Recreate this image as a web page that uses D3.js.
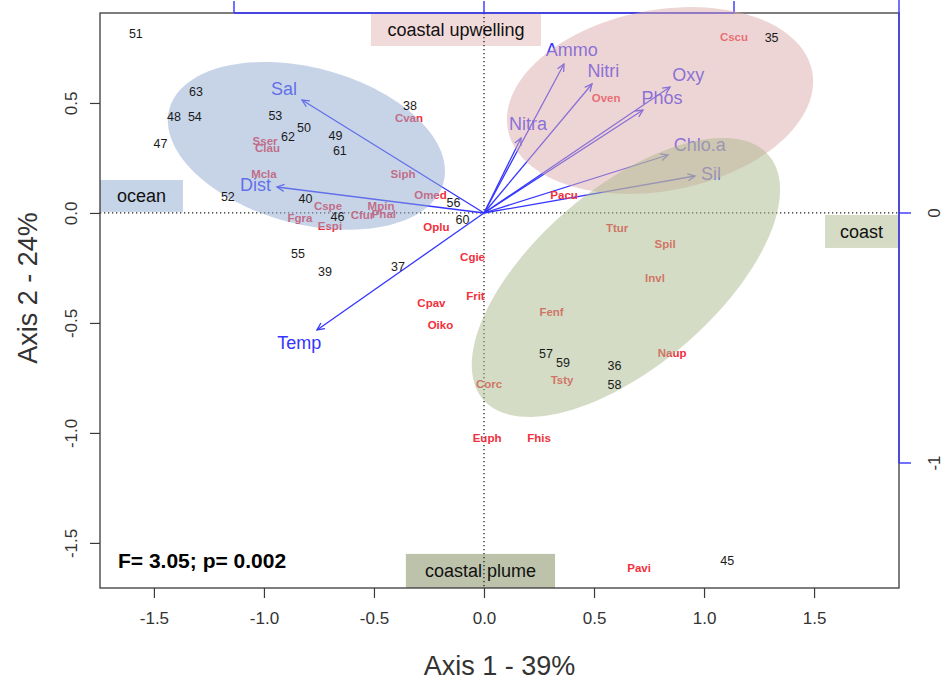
<!DOCTYPE html>
<html>
<head>
<meta charset="utf-8">
<script src="https://cdn.jsdelivr.net/npm/d3@7"></script>
<style>
  body { margin: 0; background: #fff; }
  svg { display: block; }
  text { font-family: "Liberation Sans", Arial, sans-serif; }
</style>
</head>
<body>
<svg id="chart" width="943" height="680"></svg>
<script>
// ---- Site scores (axis 1, axis 2) ----
const siteIds = ["51","63","48","54","47","53","50","62","49","61","38","52","40","46","56","60","55","39","37","35","57","59","36","58","45"];
const siteAx1 = [-1.582,-1.309,-1.409,-1.314,-1.470,-0.948,-0.818,-0.891,-0.675,-0.655,-0.336,-1.164,-0.811,-0.666,-0.139,-0.098,-0.845,-0.723,-0.391,1.307,0.282,0.359,0.593,0.593,1.105];
const siteAx2 = [0.814,0.552,0.436,0.436,0.316,0.441,0.386,0.348,0.350,0.284,0.486,0.073,0.064,-0.016,0.048,-0.032,-0.186,-0.268,-0.243,0.798,-0.639,-0.680,-0.695,-0.782,-1.580];

// ---- Species scores ----
const speciesIds = ["Cscu","Oven","Cvan","Sser","Clau","Mcla","Siph","Omed","Pacu","Cspe","Mpin","Fgra","Cfur","Phal","Espi","Oplu","Cgie","Frit","Cpav","Oiko","Ttur","Spil","Invl","Fenf","Naup","Tsty","Corc","Euph","Fhis","Pavi"];
const speciesAx1 = [1.136,0.555,-0.341,-0.995,-0.984,-1.000,-0.368,-0.243,0.364,-0.709,-0.468,-0.836,-0.552,-0.455,-0.700,-0.216,-0.052,-0.039,-0.239,-0.198,0.605,0.823,0.777,0.307,0.855,0.355,0.023,0.014,0.250,0.705];
const speciesAx2 = [0.802,0.523,0.432,0.327,0.295,0.177,0.175,0.082,0.082,0.030,0.030,-0.023,-0.011,-0.005,-0.061,-0.066,-0.200,-0.377,-0.409,-0.509,-0.068,-0.139,-0.295,-0.450,-0.636,-0.759,-0.777,-1.025,-1.025,-1.616];

// ---- Environmental vectors (arrow axis units) ----
const envIds = ["Sal","Dist","Temp","Nitra","Ammo","Nitri","Oxy","Phos","Chlo.a","Sil"];
const envAx1 = [-0.728,-0.828,-0.668,0.148,0.320,0.432,0.744,0.636,0.736,0.844];
const envAx2 = [0.452,0.104,-0.468,0.300,0.596,0.516,0.504,0.412,0.232,0.148];

// ---- Group ellipses: centre, semi-axes, rotation (degrees) ----
const groupNames = ["ocean","coastal upwelling","coast"];
const ellCx = [-0.807, 0.800, 0.645];
const ellCy = [0.305, 0.511, -0.293];
const ellRx = [0.645, 0.704, 0.854];
const ellRy = [0.355, 0.411, 0.405];
const ellAngle = [-15, 10.8, 40.5];
const ellColor = ["#8faad2", "#ddacac", "#abb98d"];

// ---- Region labels: text and box extents in axis units ----
const regionText = ["ocean","coastal upwelling","coast","coastal plume"];
const regionX0 = [-1.745, -0.514, 1.550, -0.355];
const regionX1 = [-1.368, 0.259, 1.882, 0.323];
const regionY0 = [0.150, 0.905, -0.009, -1.550];
const regionY1 = [0.005, 0.759, -0.159, -1.705];
const regionFill = ["#c6d4e7", "#f1dada", "#d5dbc5", "#bcc3aa"];

// ---- Axes ----
const xTicks = [-1.5,-1.0,-0.5,0.0,0.5,1.0,1.5];
const yTicks = [-1.5,-1.0,-0.5,0.0,0.5];
const vTicks = [-1, 0, 1];
const xTitle = "Axis 1 - 39%";
const yTitle = "Axis 2 - 24%";
const statText = "F= 3.05; p= 0.002";

const svg = d3.select("#chart");
const L = 100, R = 899, T = 13, B = 588;

const x = d3.scaleLinear().domain([-1.745, 1.886]).range([L, R]);
const y = d3.scaleLinear().domain([0.909, -1.705]).range([T, B]);
const vx = d3.scaleLinear().domain([-1.536, 1.660]).range([L, R]);
const vy = d3.scaleLinear().domain([0.800, -1.500]).range([T, B]);

const BLUE = "#3535ff";
const RED = "#f2303c";

// region boxes sit under everything else
regionText.forEach((t, i) => {
  svg.append("rect")
    .attr("x", x(regionX0[i])).attr("y", y(regionY0[i]))
    .attr("width", x(regionX1[i]) - x(regionX0[i]))
    .attr("height", y(regionY1[i]) - y(regionY0[i]))
    .attr("fill", regionFill[i]);
});

// zero lines
svg.append("line").attr("x1", L).attr("x2", R).attr("y1", y(0)).attr("y2", y(0))
  .attr("stroke", "#222").attr("stroke-width", 1.3).attr("stroke-dasharray", "1.3,2.7");
svg.append("line").attr("x1", x(0)).attr("x2", x(0)).attr("y1", T).attr("y2", B)
  .attr("stroke", "#222").attr("stroke-width", 1.3).attr("stroke-dasharray", "1.3,2.7");

// plot frame
svg.append("rect").attr("x", L).attr("y", T).attr("width", R - L).attr("height", B - T)
  .attr("fill", "none").attr("stroke", "#3a3a3a").attr("stroke-width", 1.3);

// bottom axis
const gx = svg.append("g").attr("transform", `translate(0,${B})`)
  .call(d3.axisBottom(x).tickValues(xTicks).tickFormat(d => d.toFixed(1)).tickSize(10).tickPadding(14));
gx.select(".domain").remove();
gx.selectAll(".tick line").attr("stroke", "#3a3a3a").attr("stroke-width", 1.2);
gx.selectAll(".tick text").attr("font-size", 17).attr("fill", "#333")
  .attr("font-family", "Liberation Sans, Arial, sans-serif");

// left axis, labels parallel to the axis
const gy = svg.append("g").attr("transform", `translate(${L},0)`)
  .call(d3.axisLeft(y).tickValues(yTicks).tickFormat(d => d.toFixed(1)).tickSize(10));
gy.select(".domain").remove();
gy.selectAll(".tick line").attr("stroke", "#3a3a3a").attr("stroke-width", 1.2);
gy.selectAll(".tick text").attr("font-size", 17).attr("fill", "#333")
  .attr("font-family", "Liberation Sans, Arial, sans-serif")
  .attr("transform", "rotate(-90)").attr("x", 0).attr("y", -23).attr("dy", 0)
  .attr("text-anchor", "middle");

// secondary (arrow) axes, top and right
svg.append("line").attr("x1", vx(-1)).attr("x2", vx(1)).attr("y1", T).attr("y2", T)
  .attr("stroke", BLUE).attr("stroke-width", 1.4);
vTicks.forEach(v => {
  svg.append("line").attr("x1", vx(v)).attr("x2", vx(v)).attr("y1", T).attr("y2", T - 12)
    .attr("stroke", BLUE).attr("stroke-width", 1.4);
});
svg.append("line").attr("x1", R).attr("x2", R).attr("y1", vy(-1)).attr("y2", Math.max(0, vy(1)))
  .attr("stroke", BLUE).attr("stroke-width", 1.4);
vTicks.filter(v => vy(v) >= T).forEach(v => {
  svg.append("line").attr("x1", R).attr("x2", R + 12).attr("y1", vy(v)).attr("y2", vy(v))
    .attr("stroke", BLUE).attr("stroke-width", 1.4);
  svg.append("text").attr("transform", `translate(${R + 41},${vy(v)}) rotate(-90)`)
    .attr("text-anchor", "middle").attr("font-size", 17).attr("fill", "#333")
    .text(String(v));
});

// axis titles
svg.append("text").attr("x", (L + R) / 2).attr("y", 675).attr("text-anchor", "middle")
  .attr("font-size", 27).attr("fill", "#333").text(xTitle);
svg.append("text").attr("transform", `translate(37,288) rotate(-90)`).attr("text-anchor", "middle")
  .attr("font-size", 27).attr("fill", "#333").text(yTitle);

// environmental arrows
const env = envIds.map((id, i) => ({ id, a1: envAx1[i], a2: envAx2[i] }));
const ox = vx(0), oy = vy(0);
const gArr = svg.append("g").attr("stroke", BLUE).attr("stroke-width", 1.3).attr("fill", "none");
env.forEach(d => {
  const ex = vx(d.a1), ey = vy(d.a2);
  const ang = Math.atan2(ey - oy, ex - ox);
  const hl = 8, ha = Math.PI / 7;
  gArr.append("line").attr("x1", ox).attr("y1", oy).attr("x2", ex).attr("y2", ey);
  gArr.append("path").attr("d",
    `M${ex - hl * Math.cos(ang - ha)},${ey - hl * Math.sin(ang - ha)}L${ex},${ey}L${ex - hl * Math.cos(ang + ha)},${ey - hl * Math.sin(ang + ha)}`);
});

// species labels
speciesIds.forEach((id, i) => {
  svg.append("text").attr("x", x(speciesAx1[i])).attr("y", y(speciesAx2[i])).attr("dy", "0.35em")
    .attr("text-anchor", "middle").attr("font-size", 11.5).attr("font-weight", "bold")
    .attr("fill", RED).text(id);
});

// arrow labels, pushed just beyond the arrow head
svg.selectAll("text.env").data(env).join("text").attr("class", "env")
  .attr("text-anchor", "middle").attr("dy", "0.35em").attr("font-size", 18).attr("fill", BLUE)
  .text(d => d.id)
  .each(function (d) {
    const hw = this.getComputedTextLength() / 2, hh = 9;
    const px = vx(d.a1) - ox, py = vy(d.a2) - oy;
    const len = Math.hypot(px, py), ux = px / len, uy = py / len;
    const t = Math.min(hw / Math.max(Math.abs(ux), 1e-6), hh / Math.max(Math.abs(uy), 1e-6)) + 6;
    d3.select(this).attr("x", vx(d.a1) + ux * t).attr("y", vy(d.a2) + uy * t);
  });

// group ellipses, translucent over arrows and species
groupNames.forEach((g, i) => {
  const th = ellAngle[i] * Math.PI / 180;
  const pts = d3.range(0, 361, 3).map(deg => {
    const t = deg * Math.PI / 180;
    const ex = ellRx[i] * Math.cos(t), ey = ellRy[i] * Math.sin(t);
    return [ellCx[i] + ex * Math.cos(th) - ey * Math.sin(th), ellCy[i] + ex * Math.sin(th) + ey * Math.cos(th)];
  });
  svg.append("path").attr("d", d3.line().x(p => x(p[0])).y(p => y(p[1]))(pts) + "Z")
    .attr("fill", ellColor[i]).attr("fill-opacity", 0.5).attr("stroke", "none");
});

// site labels on top
siteIds.forEach((id, i) => {
  svg.append("text").attr("x", x(siteAx1[i])).attr("y", y(siteAx2[i])).attr("dy", "0.35em")
    .attr("text-anchor", "middle").attr("font-size", 12.5).attr("fill", "#1a1a1a").text(id);
});

// region label texts
regionText.forEach((t, i) => {
  svg.append("text")
    .attr("x", (x(regionX0[i]) + x(regionX1[i])) / 2)
    .attr("y", (y(regionY0[i]) + y(regionY1[i])) / 2).attr("dy", "0.35em")
    .attr("text-anchor", "middle").attr("font-size", 18).attr("fill", "#111").text(t);
});

// test statistic
svg.append("text").attr("x", 118).attr("y", 568).attr("font-size", 21).attr("font-weight", "bold")
  .attr("fill", "#000").text(statText);
</script>
</body>
</html>
